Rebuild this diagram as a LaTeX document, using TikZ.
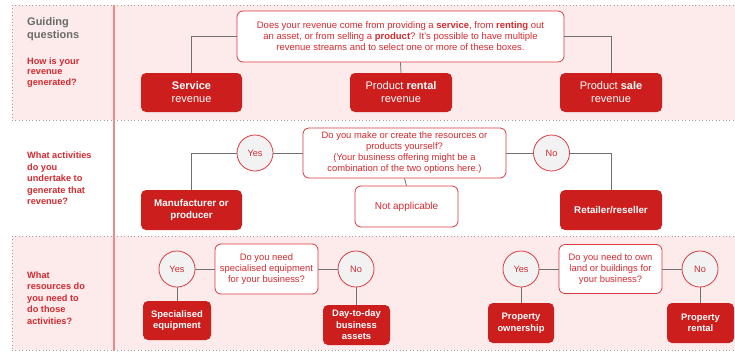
\documentclass[tikz,border=0pt]{standalone}
\usepackage{fontspec}
\setmainfont{Liberation Sans}
\definecolor{pinkbg}{HTML}{FDEAEB}
\definecolor{boxred}{HTML}{CD1E1E}
\definecolor{txtred}{HTML}{D42A2F}
\definecolor{bordred}{HTML}{DB3A40}
\definecolor{linegray}{HTML}{707070}
\definecolor{circfill}{HTML}{F2F2F2}
\definecolor{guidegray}{HTML}{6B6B6B}
\definecolor{dotgray}{HTML}{A0A0A0}
\definecolor{vline}{HTML}{EC8A8A}
\tikzset{
  qbox/.style={draw=bordred, fill=white, rounded corners=6pt, line width=0.8pt, text=txtred,
    align=center, inner sep=0pt, font=\fontsize{9.4}{11}\selectfont},
  rbox/.style={fill=boxred, rounded corners=5pt, text=white, align=center, inner sep=0pt},
  bigbox/.style={rbox, font=\fontsize{11}{13}\selectfont},
  midbox/.style={rbox, font=\fontsize{9.8}{11.5}\selectfont\bfseries},
  smallbox/.style={rbox, font=\fontsize{9.4}{11.5}\selectfont\bfseries},
  circ/.style={circle, draw=bordred, fill=circfill, line width=0.8pt, minimum size=36pt,
    inner sep=0pt, text=txtred, font=\fontsize{9.2}{11}\selectfont},
  conn/.style={draw=linegray, line width=0.8pt},
  sidetext/.style={anchor=north west, align=left, inner sep=0pt, text=txtred,
    font=\fontsize{9.2}{11.5}\selectfont\bfseries},
  dotline/.style={draw=dotgray, line width=0.7pt, dash pattern=on 0.8pt off 2.6pt},
}
\begin{document}
\begin{tikzpicture}[x=1pt,y=-1pt]
\useasboundingbox (0,0) rectangle (735,351);
% bands
\fill[pinkbg] (12,5) rectangle (735,120);
\fill[pinkbg] (12,236) rectangle (735,350);
\draw[dotline] (12,5) -- (735,5);
\draw[dotline] (12,120) -- (735,120);
\draw[dotline] (12,5) -- (12,120);
\draw[dotline] (12,236) -- (735,236);
\draw[dotline] (12,350) -- (735,350);
\draw[dotline] (12,236) -- (12,350);
\draw[vline, line width=2pt] (113.5,5) -- (113.5,351);
% left column
\node[anchor=north west, align=left, inner sep=0pt, text=guidegray,
  font=\fontsize{11}{13}\selectfont\bfseries] (guide) at (27,17) {Guiding\\questions};
\node[sidetext, font=\fontsize{9.2}{10.5}\selectfont\bfseries] (s1) at (27,57.5) {How is your\\revenue\\generated?};
\node[sidetext] (s2) at (27,152) {What activities\\do you\\undertake to\\generate that\\revenue?};
\node[sidetext] (s3) at (27,271.5) {What\\resources do\\you need to\\do those\\activities?};
% band 1
\node[qbox, font=\fontsize{9.5}{11}\selectfont, minimum width=327pt, minimum height=51pt] (q1) at (400.5,36.5)
  {Does your revenue come from providing a \textbf{service}, from \textbf{renting} out\\
   an asset, or from selling a \textbf{product}? It's possible to have multiple\\
   revenue streams and to select one or more of these boxes.};
\node[bigbox, minimum width=101pt, minimum height=39pt] (b1a) at (191.5,92.5) {\textbf{Service}\\revenue};
\node[bigbox, minimum width=102pt, minimum height=39pt] (b1b) at (401,92.5) {Product \textbf{rental}\\revenue};
\node[bigbox, minimum width=102pt, minimum height=39pt] (b1c) at (611,92.5) {Product \textbf{sale}\\revenue};
\draw[conn] (q1.west) -| (b1a.north);
\draw[conn] (q1.south) -- (b1b.north);
\draw[conn] (q1.east) -| (b1c.north);
% band 2
\node[qbox, minimum width=203pt, minimum height=50pt] (q2) at (404.5,153)
  {Do you make or create the resources or\\products yourself?\\(Your business offering might be a\\combination of the two options here.)};
\node[circ] (y2) at (255,153) {Yes};
\node[circ] (n2) at (551.5,153) {No};
\node[midbox, minimum width=101pt, minimum height=40pt] (m2) at (191.5,210) {Manufacturer or\\producer};
\node[qbox, font=\fontsize{10}{12}\selectfont, minimum width=103pt, minimum height=41pt] (na2) at (406.5,206.5) {Not applicable};
\node[midbox, minimum width=102pt, minimum height=40pt] (r2) at (611,210) {Retailer/reseller};
\draw[conn] (y2.west) -| (m2.north);
\draw[conn] (y2.east) -- (q2.west);
\draw[conn] (q2.east) -- (n2.west);
\draw[conn] (n2.east) -| (r2.north);
\draw[conn] (q2.south) -- (na2.north);
% band 3
\node[qbox, minimum width=103pt, minimum height=50pt] (q3a) at (266.5,269)
  {Do you need\\specialised equipment\\for your business?};
\node[circ] (y3a) at (177,269) {Yes};
\node[circ] (n3a) at (356,269) {No};
\node[smallbox, minimum width=68pt, minimum height=39pt] (b3a) at (177,320.5) {Specialised\\equipment};
\node[smallbox, minimum width=67pt, minimum height=40pt] (b3b) at (356.5,325) {Day-to-day\\business\\assets};
\draw[conn] (y3a.east) -- (q3a.west);
\draw[conn] (q3a.east) -- (n3a.west);
\draw[conn] (y3a.south) -- (b3a.north);
\draw[conn] (n3a.south) -- (b3b.north -| n3a.south);
\node[qbox, minimum width=103pt, minimum height=49pt] (q3b) at (610.5,269)
  {Do you need to own\\land or buildings for\\your business?};
\node[circ] (y3b) at (521,269) {Yes};
\node[circ] (n3b) at (700,269) {No};
\node[smallbox, minimum width=66pt, minimum height=40pt] (b3c) at (521,323) {Property\\ownership};
\node[smallbox, minimum width=67pt, minimum height=40pt] (b3d) at (700.5,323) {Property\\rental};
\draw[conn] (y3b.east) -- (q3b.west);
\draw[conn] (q3b.east) -- (n3b.west);
\draw[conn] (y3b.south) -- (b3c.north);
\draw[conn] (n3b.south) -- (b3d.north -| n3b.south);
\end{tikzpicture}
\end{document}
